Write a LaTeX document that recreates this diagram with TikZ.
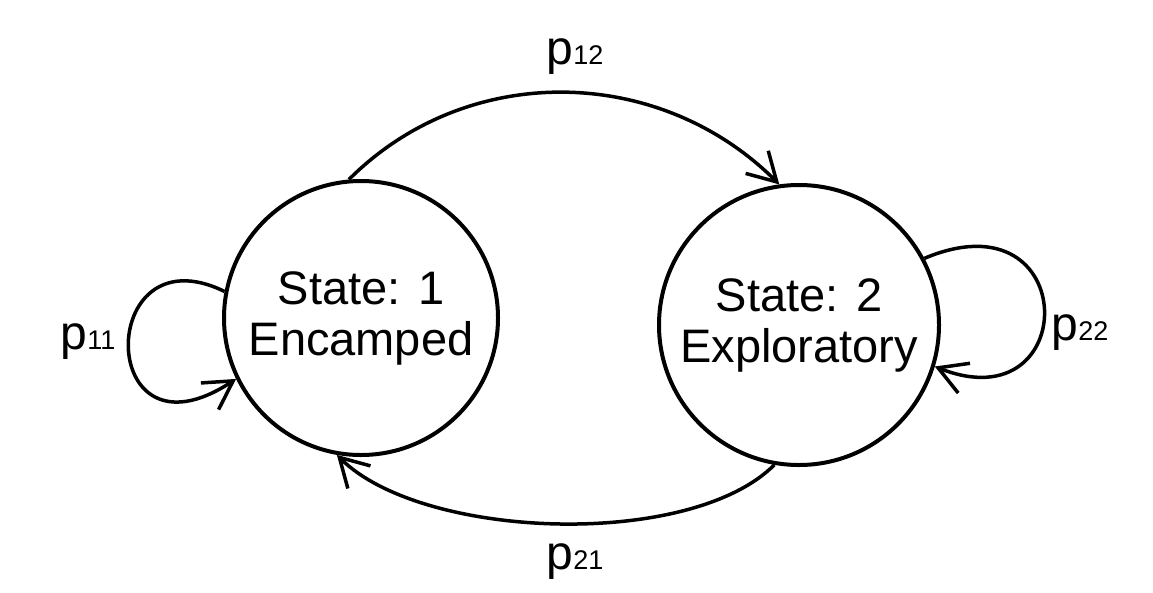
\documentclass[tikz,border=0pt]{standalone}
\usepackage{fontspec}
\setmainfont{Liberation Sans}
\usetikzlibrary{arrows.meta,positioning}
\newcommand{\plabel}[1]{p{\fontsize{27}{29}\selectfont #1}}
\tikzset{
  state/.style={draw, circle, line width=4pt, align=center, inner sep=0pt,
    font=\fontsize{47}{51}\selectfont},
  trans/.style={line width=3.5pt, -{Straight Barb[length=28pt,width=32pt,line width=3.5pt]}},
  prob/.style={font=\fontsize{48}{50}\selectfont, inner sep=0pt}
}
\begin{document}
\begin{tikzpicture}[x=1pt, y=-1pt]
    \useasboundingbox (0,0) rectangle (1153,592);
    \node [state, minimum size=274pt] (s1) at (361,318) {State: 1\\Encamped};
    \node [state, minimum size=280pt] (s2) at (799,325) {State: 2\\Exploratory};

    \node [prob] (p12) at (575,57) {\plabel{12}};
    \node [prob] (p21) at (575,562) {\plabel{21}};
    \node [prob] (p11) at (88,342) {\plabel{11}};
    \node [prob] (p22) at (1080,333) {\plabel{22}};

    \draw [trans] (s1.95) to[out=45, in=135] (s2.98);
    \draw [trans] (s2.-100) to[out=-135, in=-45, looseness=0.7] (s1.-100);
    \draw [trans] (s1.169) .. controls (95,228) and (95,472) .. (s1.-154);
    \draw [trans] (s2.28) .. controls (1082,192) and (1082,425) .. (s2.-17);
\end{tikzpicture}
\end{document}
